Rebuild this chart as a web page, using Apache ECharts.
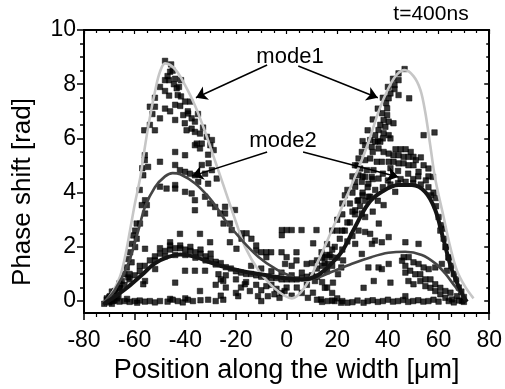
<!DOCTYPE html>
<html>
<head>
<meta charset="utf-8">
<script src="https://cdn.jsdelivr.net/npm/echarts@6/dist/echarts.min.js"></script>
<style>html,body{margin:0;padding:0;background:#fff}#c{width:505px;height:389px}</style>
</head>
<body>
<div id="c"></div>
<script>
// ---------- data ----------
const xTicks = [-80, -60, -40, -20, 0, 20, 40, 60, 80];
const yTicks = [0, 2, 4, 6, 8, 10];
const yMinorTicks = [0.5, 1, 1.5, 2.5, 3, 3.5, 4.5, 5, 5.5, 6.5, 7, 7.5, 8.5, 9, 9.5];

const measured = [
  // left peak
  [-48,8.86],[-45.6,8.73],[-46,8.46],[-48,8.15],[-46.4,8.15],[-44,8.2],[-41.7,8.15],[-43.4,7.85],[-48,7.75],[-46.4,7.58],
  [-52,7.5],[-41.7,7.55],[-40.1,7.36],[-38.1,7.36],[-54,7.17],[-52,7.17],[-48,7.1],[-46,7.0],[-44,7.24],[-40.8,6.86],
  [-38.9,6.92],[-37.5,6.74],[-36.2,6.62],[-40.2,6.56],[-44,6.68],[-50,6.74],[-54,6.5],[-52,6.3],[-56.2,6.3],[-39.5,6.3],
  [-37.5,6.36],[-36.2,6.24],[-34.2,6.18],[-31.5,6.06],[-29.5,5.94],[-35.5,5.81],[-33.5,5.81],[-36.2,5.75],[-34.2,5.63],[-30.1,5.75],
  [-28.8,5.57],[-44,5.5],[-40.1,5.38],[-56,5.38],[-56,5.2],[-50,5.14],[-54.7,4.95],[-44,5.02],[-33.5,5.02],[-30.8,5.08],
  [-42.1,4.83],[-40.1,4.77],[-38.2,4.7],[-36.2,4.64],[-32.2,4.7],[-29.5,4.83],[-56.6,4.64],[-27.6,4.52],[-34.9,4.4],[-31,4.33],
  [-45,8.5],[-44.5,8.0],[-42.5,7.9],[-47,8.3],[-43,7.6],[-42,7.2],[-39,7.0],[-35,6.9],[-33,6.4],[-31,5.4],
  [-50,7.9],[-53,6.9],[-58,4.1],[-57,4.9],
  // left lower
  [-50,4.22],[-47.4,4.15],[-44,4.28],[-44,4.15],[-40.1,4.03],[-37.5,3.97],[-36.2,3.72],[-32.2,3.85],[-30.2,3.6],[-28.2,3.47],
  [-36.2,3.35],[-26.2,3.23],[-24.9,2.86],[-55.9,3.72],[-57.2,3.54],[-55.2,3.54],[-55.9,3.23],[-59.2,2.86],[-57.9,2.86],[-59.8,2.6],
  [-60.5,2.42],[-59.2,2.3],[-61.2,2.11],[-59.8,1.99],[-61.8,1.8],[-62.5,1.55],[-61.2,1.43],[-63.1,1.24],[-64.1,0.99],[-65.1,0.74],
  [-62.5,0.87],[-67.8,0.37],[-69.7,0.18],[-70.4,0.0],[-68.4,0.0],[-66.4,0.18],[-65.8,0.49],[-55.9,1.93],[-42.1,2.48],[-34.2,2.48],
  [-30.2,2.17],[-46,2.17],[-51.9,1.18],[-55.9,0.74],[-56.6,0.62],[-44,0.68],[-40.1,1.12],[-36.2,1.12],[-34.2,0.37],[-32.2,1.12],
  [-26.9,0.99],[-25,0.74],
  // left band
  [-54,1.5],[-52,1.65],[-50,1.75],[-48,1.85],[-46,1.9],[-44,1.95],[-42,1.95],[-40,1.9],[-38,1.85],[-36,1.8],
  [-34,1.75],[-32,1.65],[-30,1.55],[-28,1.45],[-26,1.4],[-52,1.5],[-48,1.65],[-44,1.7],[-40,1.7],[-36,1.6],
  [-32,1.5],[-28,1.35],[-24,1.25],[-56,1.3],[-58,1.1],[-60,0.95],[-62,0.8],[-64,0.6],[-66,0.45],[-68,0.3],
  [-70,0.15],[-50,1.95],[-46,2.05],[-42,2.05],[-38,2.0],[-34,1.9],[-30,1.75],[-58,1.3],[-62,1.0],[-66,0.65],
  [-69,0.35],[-71,0.05],[-72,-0.1],
  // left bottom row
  [-70,-0.05],[-68,0.02],[-66,-0.02],[-64,0.0],[-62,-0.03],[-60,0.0],[-58,0.02],[-56,-0.02],[-54,0.0],[-52,-0.05],
  [-50,0.0],[-47,-0.02],[-45,0.05],[-43,0.0],[-41,-0.05],[-39,0.05],[-37,0.0],[-34,0.03],[-31,0.05],[-28,0.0],
  [-25,0.05],[-71,0.1],[-69,-0.1],[-67,0.1],[-63,0.08],[-59,-0.06],[-46,0.08],[-40,0.1],
  // middle
  [-1.9,2.62],[0,2.62],[2,2.62],[5.9,2.62],[11.8,2.62],[-1.9,2.43],[10.5,2.13],[-20.4,3.36],[-24.3,3.48],[-24.3,3.23],
  [-22.4,2.86],[-21.7,2.62],[-17.8,2.5],[-15.8,2.5],[-17.8,2.3],[-13.9,2.3],[-22.4,2.17],[-19.8,1.93],[-12,2.05],[-12,1.86],
  [-10,1.8],[-8,1.8],[-6.1,1.8],[-8,1.62],[-2,1.8],[0,1.62],[3.9,1.8],[3.9,1.5],[2,1.3],[-0.6,1.37],
  [7.9,1.37],[13.8,1.8],[15.1,1.62],[17.7,1.62],[16.4,1.37],[22.3,1.5],[21.6,1.24],[20.3,0.99],[18.3,0.68],[11.2,0.74],
  [15.1,0.49],[-16.5,0.62],[-14.5,0.37],[-19.1,0.18],[-11.3,0.18],[-10,0.0],[-7.4,0.18],[-4.8,0.25],[-2.8,0.12],[-0.8,0.37],
  [8.4,0.12],[10.4,0.31],[13.6,0.06],[16.2,0.0],[18.9,0.0],[21.5,-0.06],[24,-0.06],
  // middle band
  [-22,1.2],[-20,1.1],[-18,1.05],[-16,1.0],[-14,1.0],[-12,0.95],[-10,0.9],[-8,0.9],[-6,0.85],[-4,0.85],
  [-2,0.8],[0,0.8],[2,0.8],[4,0.8],[6,0.85],[8,0.9],[10,0.95],[-20,0.8],[-16,0.7],[-12,0.6],
  [-8,0.55],[-4,0.45],[0,0.5],[4,0.5],[8,0.6],[-14,1.3],[-10,1.2],[-6,1.1],[-2,1.05],[2,0.95],
  [6,1.05],[-18,0.5],[-10,0.4],[-6,0.6],[-2,0.3],[2,0.2],[6,0.3],[-24,0.95],[-26,0.8],[-28,0.6],
  [-24,0.5],[-20,0.3],[-26,0.2],
  // right upper
  [46.6,8.56],[44.2,8.4],[44.2,8.15],[42.6,7.97],[42.6,7.82],[44.2,7.6],[48.4,7.48],[41,7.66],[40.3,7.48],[39.3,7.3],
  [39.7,7.11],[37.7,6.93],[39.7,6.86],[38.3,6.68],[40.3,6.62],[42.2,6.56],[37,6.5],[39,6.43],[36.3,6.31],[38.3,6.19],
  [40.3,6.12],[35,6.12],[33,5.94],[35,5.88],[37,5.88],[54.1,6.12],[58.4,6.22],[31,5.75],[33.6,5.69],[36.3,5.63],
  [38.3,5.5],[40.3,5.44],[42.2,5.38],[44.2,5.38],[46.2,5.32],[48.1,5.32],[50.1,5.32],[29.7,5.5],[28.4,5.26],[31,5.2],
  [33,5.26],[35.6,5.14],[37.6,5.14],[40.3,5.14],[42.2,5.14],[44.2,5.08],[46.2,5.08],[48.1,5.01],[50.1,5.01],[54.1,5.01],
  [52.1,4.77],[56,4.89],[27,5.01],[29.1,4.89],[31.7,4.83],[34.3,4.83],[28.4,4.64],[31,4.58],[33.6,4.58],[36.3,4.52],
  [57.8,4.58],[29.7,4.4],[32.3,4.33],
  [30,5.9],[32,6.3],[34,6.7],[36,7.1],[38,7.5],[40,7.9],[42,8.2],[34,5.5],[36,5.9],[38,6.0],
  [41,6.0],[43,5.6],[45,5.6],[47,5.6],[49,5.5],[51,5.2],[53,5.3],[44,4.8],[48,4.7],[52,4.6],
  [56,4.6],[38,4.7],[41,4.9],[30,3.9],[34,3.3],[36,3.7],[31,3.1],[25,3.6],[27,4.4],[23,3.9],
  // right lower
  [35,4.1],[38,4.2],[41,4.3],[44,4.35],[47,4.4],[50,4.35],[53,4.3],[56,4.2],[58,4.0],[40,4.45],
  [45,4.5],[50,4.5],[55,4.45],[27.1,4.22],[28.4,3.72],[32.4,3.85],[27.1,3.35],[29.7,3.23],[38.3,3.54],[42.9,4.03],
  [36.4,2.86],[28.4,2.6],[31,2.55],[33,2.48],[34.9,2.23],[33.7,2.11],[37.6,2.17],[40.3,2.36],[46.9,2.17],[52.1,2.11],
  [27.1,2.11],[29.7,1.74],[32.3,1.24],[36.3,1.24],[37.6,1.18],[40.3,1.37],[41,0.68],[34.4,0.74],[30.4,0.49],[45.6,1.49],
  [46.9,1.3],[46.9,1.05],[48.8,1.12],[50.8,0.99],[52.8,0.99],[52.8,0.74],[54.8,0.8],[54.8,0.55],[56.8,0.8],[56.8,0.49],
  [58.7,0.62],[58.7,0.37],[60.7,0.49],[60.7,0.25],[62.7,0.37],[62.7,0.12],[64.7,0.31],[65.3,0.06],[67.3,0.18],[69.3,0.0],
  [60.7,2.6],[61.9,2.67],[62.7,1.99],[63.9,1.62],[61.3,1.37],[63.3,1.12],[58.7,1.24],[48.1,0.74],[50.1,0.62],[46.2,1.62],
  [48.2,1.62],[50.1,1.43],[52.1,1.37],[54.1,1.24],[56.1,1.18],[46.9,0.18],
  [59,3.5],[60,3.1],[61,2.8],[62,2.3],[63,2.0],[64,1.6],[65,1.3],[66,1.0],[67,0.8],[68,0.5],
  [69,0.35],[70,0.15],[57,3.9],[59,3.8],
  // right bottom row
  [30.4,-0.06],[32,0.0],[34,0.03],[36,-0.03],[38,0.0],[40,0.05],[42,-0.02],[44,0.0],[46,0.04],[48,-0.03],
  [50,0.0],[52,0.03],[54,-0.02],[56,0.0],[58,0.05],[12,0.05],[14,-0.03],[18,0.02],[22,0.0],[26,-0.04],
  [28,0.02],[60,-0.02],[64,0.0],[66,-0.05],[68,0.02],[70,-0.03],
  // right rising
  [15,1.4],[17,1.7],[19,2.0],[21,2.3],[23,2.6],[25,2.9],[27,3.2],[29,3.5],[31,3.7],[33,3.85],
  [16,2.1],[18,2.6],[20,3.0],[22,3.6],[24,4.1],[26,4.6],[28,5.0],[12,1.2],[14,1.3],[12,1.5],
  [16,1.1],[18,1.3],[20,1.6],[22,1.9],[24,2.2],[26,2.4],[10,1.4],[14,1.6],[18,1.9],[22,2.6],
  [24,2.9],[26,3.3],[28,3.7],[30,4.0],[32,4.2],[34,4.5],[30,4.6],[26,4.0],[22,3.2],[20,2.6],
  [16,1.7],[12,0.9],[14,0.7],[16,0.5],[18,0.3],[20,0.1]
];

// fitted curves
const mode1Fit = [
  [-72.4,-0.08],[-69.1,0.28],[-65.8,0.9],[-63.8,1.63],[-61.8,2.62],[-59.9,3.6],[-57.9,4.5],[-56.6,5.3],[-54.3,6.62],
  [-51.7,7.85],[-50,8.46],[-48,8.77],[-44,8.55],[-40.1,7.97],[-36.1,7.2],[-32.2,6.25],[-28.9,5.35],[-25.6,4.45],
  [-20.3,3.0],[-16.4,2.0],[-11.1,1.14],[-4.5,0.45],[2.1,0.1],[7.3,0.53],[12.6,1.51],[17.9,2.62],
  [23.1,3.73],[27.1,4.6],[32.3,5.85],[36.3,6.99],[40.2,7.85],[43.5,8.35],[46.6,8.52],[50.1,8.3],[52.8,7.8],
  [54.7,6.99],[56.7,5.76],[58.7,4.5],[62,3.1],[64.6,2.0],[67.2,1.14],[70.5,0.53],[73.8,0.1]
];
const mode2Upper = [
  [-72.4,-0.08],[-67.8,0.41],[-62.5,1.39],[-58.5,2.62],[-55.9,3.48],[-52,4.2],[-48,4.6],[-45,4.72],[-42,4.68],
  [-36.1,4.34],[-30.9,3.85],[-26.9,3.36],[-24.3,2.99],[-17.7,2.25],[-11.1,1.63],[-4.5,1.2],[2.1,0.9],[6,0.77],
  [11.3,0.84],[17.9,1.08],[25.8,1.38],[33.7,1.63],[40.2,1.78],[46.8,1.82],[53.4,1.7],[58.7,1.39],
  [62.6,1.02],[66.6,0.53],[70.5,0.1]
];
const mode2Lower = [
  [-72.4,-0.12],[-67.8,0.16],[-62.5,0.53],[-57.2,0.96],[-52,1.39],[-46.7,1.63],[-42,1.72],[-36.1,1.63],[-30.9,1.45],
  [-25,1.27],[-16.4,1.08],[-8.5,0.96],[-0.6,0.84],[6,0.8],[11.3,0.9],[16.5,1.27],[21.8,1.82],[26.4,2.62],
  [32.3,3.6],[37.6,4.03],[44.2,4.28],[49.5,4.28],[54.7,4.03],[58.7,3.36],[62,2.25],[65.3,1.14],[69.2,0.28],[71.2,-0.03]
];

// annotation arrows (data coordinates: from label to target)
const arrowMode1 = [[[-7.7, 8.71], [-35.8, 7.5]], [[4.6, 8.67], [36.0, 7.5]]];
const arrowMode2 = [[[-7.7, 5.5], [-37.3, 4.61]], [[6.5, 5.5], [44.1, 4.58]]];
const labels = { mode1: 'mode1', mode2: 'mode2', time: 't=400ns' };

// ---------- chart ----------
const FONT = '"Liberation Sans", Arial, Helvetica, sans-serif';
const chart = echarts.init(document.getElementById('c'), null, { renderer: 'canvas' });
const axisLine = { show: true, onZero: false, lineStyle: { color: '#000', width: 2 } };
const noLine = { show: false, onZero: false };
const yMin = -0.44, yMax = 10;

function yAx(pos, inside, values, len, showLabel, showLine) {
  return {
    type: 'value', min: yMin, max: yMax, position: pos,
    axisLine: showLine ? axisLine : noLine,
    axisTick: { show: true, inside: inside, length: len, customValues: values, lineStyle: { color: '#000', width: 1.5 } },
    axisLabel: showLabel ? { show: true, customValues: values, fontSize: 23, color: '#000', fontFamily: FONT, margin: 8 } : { show: false },
    splitLine: { show: false }
  };
}

chart.setOption({
  animation: false,
  backgroundColor: '#fff',
  grid: { left: 84, right: 14, top: 30, bottom: 76, containLabel: false },
  xAxis: [
    {
      type: 'value', min: xTicks[0], max: xTicks[xTicks.length - 1], interval: 20, position: 'bottom',
      axisLine: axisLine,
      axisTick: { show: true, inside: false, length: 7, lineStyle: { color: '#000', width: 1.5 } },
      minorTick: { show: true, splitNumber: 4, length: 4, lineStyle: { color: '#000', width: 1.2 } },
      axisLabel: { fontSize: 23, color: '#000', fontFamily: FONT, margin: 16 },
      splitLine: { show: false },
      name: 'Position along the width [μm]', nameLocation: 'middle', nameGap: 40,
      nameTextStyle: { fontSize: 27, color: '#000', fontFamily: FONT }
    },
    {
      type: 'value', min: xTicks[0], max: xTicks[xTicks.length - 1], interval: 20, position: 'top',
      axisLine: axisLine,
      axisTick: { show: true, inside: true, length: 4, lineStyle: { color: '#000', width: 1.2 } },
      minorTick: { show: true, splitNumber: 4, length: 3, lineStyle: { color: '#000', width: 1.2 } },
      axisLabel: { show: false }, splitLine: { show: false }
    }
  ],
  yAxis: [
    yAx('left', false, yTicks, 7, true, true),
    yAx('left', false, yMinorTicks, 4, false, false),
    yAx('right', true, yTicks, 5, false, true),
    yAx('right', true, yMinorTicks, 3, false, false)
  ],
  graphic: [
    { type: 'text', x: 23, y: 192, rotation: Math.PI / 2,
      style: { text: 'Phase shift [rad]', font: '26px ' + FONT, fill: '#000', align: 'center', verticalAlign: 'middle' } },
    { type: 'text', x: 431, y: 14,
      style: { text: labels.time, font: '21px ' + FONT, fill: '#000', align: 'center', verticalAlign: 'middle' } },
    { type: 'text', x: 290, y: 57,
      style: { text: labels.mode1, font: '22px ' + FONT, fill: '#000', align: 'center', verticalAlign: 'middle' } },
    { type: 'text', x: 283, y: 141,
      style: { text: labels.mode2, font: '22px ' + FONT, fill: '#000', align: 'center', verticalAlign: 'middle' } }
  ],
  series: [
    {
      type: 'scatter', data: measured, symbol: 'rect', symbolSize: 5.5, clip: false,
      itemStyle: { color: '#000', borderColor: '#000', borderWidth: 0.6 }, z: 2
    },
    {
      type: 'line', data: mode1Fit, smooth: 0.35, showSymbol: false, clip: false,
      lineStyle: { color: '#c6c6c6', width: 2.6 }, z: 3
    },
    {
      type: 'line', data: mode2Upper, smooth: 0.35, showSymbol: false, clip: false,
      lineStyle: { color: '#454545', width: 2.6 }, z: 3
    },
    {
      type: 'line', data: mode2Lower, smooth: 0.35, showSymbol: false, clip: false,
      lineStyle: { color: '#141414', width: 4 }, z: 3
    },
    {
      type: 'lines', coordinateSystem: 'cartesian2d', z: 4,
      symbol: ['none', 'arrow'], symbolSize: [7, 11],
      lineStyle: { color: '#000', width: 1.5, opacity: 1 },
      data: arrowMode1.concat(arrowMode2).map(function (c) { return { coords: c }; })
    }
  ]
});
</script>
</body>
</html>
